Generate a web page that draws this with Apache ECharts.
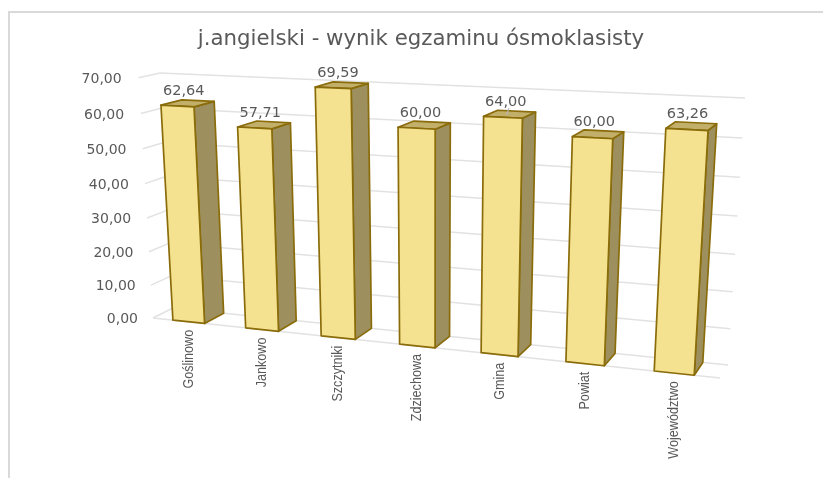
<!DOCTYPE html>
<html><head><meta charset="utf-8">
<style>html,body{margin:0;padding:0;background:#fff}#c{width:823px;height:478px}</style>
<script src="https://cdn.jsdelivr.net/npm/echarts@6/dist/echarts.min.js"></script>
</head><body><div id="c"></div>
<script>
const titleText = 'j.angielski - wynik egzaminu ósmoklasisty';
const categories = ['Goślinowo','Jankowo','Szczytniki','Zdziechowa','Gmina','Powiat','Województwo'];
const wynik = [62.64,57.71,69.59,60.00,64.00,60.00,63.26];
const yTicks = [0,10,20,30,40,50,60,70];
const leaderFor = ['Gmina'];

// perspective frame of the chart box (pixel positions of the box corners)
const A=[173,308],B=[728,365],C=[160,73],D=[745,98],E=[153,318],F=[720,379],G=[136,78];
const GRID={left:100,top:50,width:600,height:300};
const barRatio=0.22;
const COL={front:'#F4E291',side:'#9D905E',top:'#C2AF69',edge:'#8A6C0A',grid:'#E2E2E2',text:'#595959'};

function solve2(a,b,c,d,e,f){const det=a*d-b*c;return [(e*d-b*f)/det,(a*f-e*c)/det];}
const [ka,kb]=(function(){
  const r0=D[0]-B[0]-C[0]+A[0], r1=D[1]-B[1]-C[1]+A[1];
  return solve2(B[0]-D[0],C[0]-D[0],B[1]-D[1],C[1]-D[1],r0,r1);
})();
const kc=(function(){
  let n=0,m=0;
  [0,1].forEach(i=>{
    const s1=E[i]-F[i], t1=(F[i]-B[i])*(1+ka)-E[i]+A[i];
    const s2=E[i]-G[i], t2=(G[i]-C[i])*(1+kb)-E[i]+A[i];
    n+=s1*t1+s2*t2; m+=s1*s1+s2*s2;
  });
  return n/m;
})();
function project(x,y,z){
  const w=1+ka*x+kb*y+kc*z;
  return [0,1].map(i=>{
    const px=B[i]*(1+ka)-A[i], py=C[i]*(1+kb)-A[i], pz=E[i]*(1+kc)-A[i];
    return (A[i]+px*x+py*y+pz*z)/w;
  });
}
function toUnit(p){return [(p[0]-GRID.left)/GRID.width,(GRID.top+GRID.height-p[1])/GRID.height];}
function fmt(v){return v.toFixed(2).replace('.',',');}
function poly(pts,fill){return {type:'polygon',shape:{points:pts},style:{fill:fill,stroke:COL.edge,lineWidth:1.7,lineJoin:'round'}};}
function seg(a,b,color,w){return {type:'line',shape:{x1:a[0],y1:a[1],x2:b[0],y2:b[1]},style:{stroke:color,lineWidth:w,fill:null}};}

function renderFrame(params,api){
  const v=api.value(0);
  const u=toUnit(api.coord([0,v]));
  const y=u[1];
  const back0=project(0,y,0),back1=project(1,y,0),front0=project(0,y,1);
  const kids=[seg(back0,back1,COL.grid,1.5),seg(front0,back0,COL.grid,1.5)];
  if(v===yTicks[0]) kids.push(seg(front0,project(1,y,1),COL.grid,1.5));
  kids.push({type:'text',x:front0[0]-15-y*2,y:front0[1]+1.5,style:{text:fmt(v),font:'14px "DejaVu Sans"',fill:COL.text,align:'right',verticalAlign:'middle'}});
  return {type:'group',children:kids};
}
function renderBar(params,api){
  const i=api.value(0),v=api.value(1);
  const size=api.size([1,0])[0];
  const c=toUnit(api.coord([i,v]));
  const hw=size*barRatio/GRID.width;
  const x0=c[0]-hw,x1=c[0]+hw,y=c[1],yb=0;
  const fbl=project(x0,yb,1),fbr=project(x1,yb,1),ftl=project(x0,y,1),ftr=project(x1,y,1);
  const bbr=project(x1,yb,0),btl=project(x0,y,0),btr=project(x1,y,0);
  const topC=project(c[0],y,0.5),fc=project(c[0],yb,1);
  const kids=[
    poly([ftr,btr,bbr,fbr],COL.side),
    poly([ftl,btl,btr,ftr],COL.top),
    poly([fbl,ftl,ftr,fbr],COL.front),
    {type:'text',x:topC[0]-4,y:topC[1]-12,style:{text:fmt(v),font:'14.5px "DejaVu Sans"',fill:COL.text,align:'center',verticalAlign:'middle'}},
    {type:'text',x:fc[0],y:fc[1]+8,rotation:Math.PI/2,scaleX:0.84,style:{text:categories[i],font:'15px "Liberation Sans"',fill:COL.text,align:'right',verticalAlign:'middle'}}
  ];
  if(leaderFor.indexOf(categories[i])>=0) kids.push(seg([topC[0]-1,topC[1]-6],[topC[0]-3,topC[1]+1],'#B8B8B8',1.2));
  return {type:'group',children:kids};
}
const chart=echarts.init(document.getElementById('c'),null,{renderer:'canvas'});
chart.setOption({
  animation:false,backgroundColor:'#fff',
  title:{text:titleText,left:416,top:24,textAlign:'center',textStyle:{fontFamily:'DejaVu Sans',fontSize:21.3,fontWeight:'normal',color:COL.text}},
  grid:GRID,
  xAxis:{type:'category',data:categories,show:false},
  yAxis:{type:'value',min:0,max:70,interval:10,show:false},
  graphic:[{type:'polyline',silent:true,shape:{points:[[9,478],[9,12],[823,12]]},style:{stroke:'#D9D9D9',lineWidth:2,fill:null}}],
  series:[
    {type:'custom',z:2,clip:false,silent:true,renderItem:renderFrame,encode:{y:0},data:yTicks.map(v=>[v])},
    {type:'custom',z:3,clip:false,silent:true,renderItem:renderBar,encode:{x:0,y:1},data:wynik.map((v,i)=>[i,v])}
  ]
});
</script></body></html>
